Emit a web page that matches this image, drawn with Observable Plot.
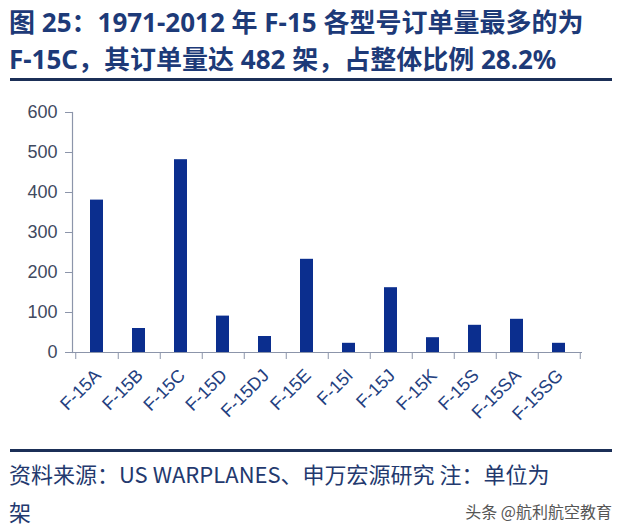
<!DOCTYPE html>
<html>
<head>
<meta charset="utf-8">
<script src="https://cdn.jsdelivr.net/npm/d3@7"></script>
<script src="https://cdn.jsdelivr.net/npm/@observablehq/plot@0.6"></script>
<style>
  html, body { margin: 0; padding: 0; background: #fff; }
  body { width: 622px; height: 531px; position: relative; overflow: hidden; }
  #title {
    position: absolute; left: 9px; top: 4px; width: 610px;
    font-family: "Noto Sans", "Noto Sans CJK SC", sans-serif;
    font-weight: 700; font-size: 26px; line-height: 37px; color: #1d3a78;
    white-space: nowrap;
  }
  .rule { position: absolute; left: 10px; width: 602px; height: 3px; background: #1b2f57; }
  #chart { position: absolute; left: 0; top: 90px; }
  #source {
    position: absolute; left: 9px; top: 454px; width: 610px;
    font-family: "Noto Sans CJK SC", "Noto Sans", sans-serif;
    font-size: 22px; line-height: 38px; color: #23396e; white-space: nowrap;
  }
  #mark {
    position: absolute; right: 10px; top: 499px;
    font-family: "Noto Sans CJK SC", sans-serif; font-size: 16px; color: #555;
  }
</style>
</head>
<body>
<div id="title">图 25：1971-2012 年 F-15 各型号订单量最多的为<br>F-15C，其订单量达 482 架，占整体比例 28.2%</div>
<div class="rule" style="top:78px"></div>
<div id="chart"></div>
<div class="rule" style="top:449px"></div>
<div id="source">资料来源：US WARPLANES、申万宏源研究 注：单位为<br>架</div>
<div id="mark">头条 @航利航空教育</div>
<script>
const models = ["F-15A","F-15B","F-15C","F-15D","F-15DJ","F-15E","F-15I","F-15J","F-15K","F-15S","F-15SA","F-15SG"];
const orders = [381, 60, 482, 91, 40, 233, 23, 162, 37, 68, 83, 23];
const yTicks = [0, 100, 200, 300, 400, 500, 600];

const data = models.map((m, i) => ({model: m, orders: orders[i]}));

const W = 622, ML = 72, MR = 40;
const step = (W - ML - MR) / models.length;
const axisColor = "#8c95aa";

const chart = Plot.plot({
  width: W,
  height: 340,
  marginLeft: ML,
  marginRight: MR,
  marginTop: 22,
  marginBottom: 78,
  style: {fontFamily: "Liberation Sans, Arial, sans-serif", background: "transparent"},
  x: {domain: models, paddingInner: 0.7, paddingOuter: 0.35, label: null},
  y: {domain: [0, 600], label: null},
  marks: [
    Plot.barY(data, {x: "model", y: "orders", fill: "#0b2e8e"}),
    Plot.ruleY([0], {stroke: axisColor, strokeWidth: 1.2}),
    Plot.frame({anchor: "left", stroke: axisColor, strokeWidth: 1.2}),
    Plot.axisY({ticks: yTicks, tickSize: 7, tickPadding: 8, fontSize: 18, color: "#3f4a60", stroke: axisColor, label: null}),
    Plot.axisX({tickSize: 7, dx: step / 2, tickFormat: () => "", stroke: axisColor, label: null}),
    Plot.axisX([models[0]], {tickSize: 7, dx: -step / 2, tickFormat: () => "", stroke: axisColor, label: null}),
    Plot.axisX({tickSize: 0, tickPadding: 20, tickRotate: -45, fontSize: 18, color: "#23407f", dx: 1, label: null})
  ]
});
document.getElementById("chart").appendChild(chart);
</script>
</body>
</html>
